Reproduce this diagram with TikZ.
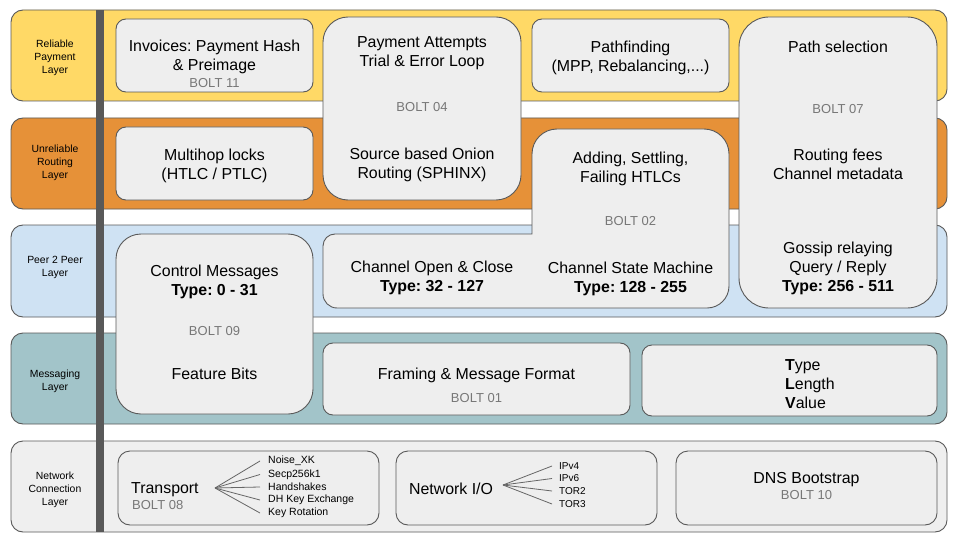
\documentclass[tikz,border=0pt]{standalone}
\usepackage{fontspec}
\setmainfont{Liberation Sans}
\frenchspacing
\definecolor{yel}{HTML}{FFD966}
\definecolor{ora}{HTML}{E69138}
\definecolor{blu}{HTML}{CFE2F3}
\definecolor{tea}{HTML}{A2C4C9}
\definecolor{netc}{HTML}{EFEFEF}
\definecolor{boxc}{HTML}{EEEEEE}
\definecolor{bordc}{HTML}{595959}
\definecolor{barc}{HTML}{595959}
\definecolor{boltc}{HTML}{777777}
\definecolor{fanc}{HTML}{666666}
\begin{document}
\frenchspacing
\begin{tikzpicture}[x=1pt,y=-1pt,
  band/.style={draw=bordc, line width=0.9pt, rounded corners=12pt},
  box/.style={draw=bordc, fill=boxc, line width=0.9pt, inner sep=0pt},
  lbl/.style={font=\fontsize{10.4}{13}\selectfont, align=center, inner sep=0pt},
  txt/.style={font=\fontsize{15.9}{19}\selectfont, align=center, inner sep=0pt, yshift=-1.5pt},
  bolt/.style={font=\fontsize{13}{15}\selectfont, text=boltc, inner sep=0pt, yshift=-0.5pt},
  item/.style={font=\fontsize{10.5}{13}\selectfont, anchor=west, inner sep=0pt},
  fan/.style={draw=fanc, line width=0.8pt}]
\useasboundingbox (0,0) rectangle (960,540);
\fill[white] (0,0) rectangle (960,540);

% layer bands
\draw[band, fill=yel] (11,10) rectangle (947,101);
\draw[band, fill=ora] (11,118) rectangle (947,209);
\draw[band, fill=blu] (11,225) rectangle (947,317);
\draw[band, fill=tea] (11,333) rectangle (947,424);
\draw[band, fill=netc] (11,441) rectangle (947,532);

% vertical bar
\fill[barc] (96,10) rectangle (104,532);

% layer labels
\node[lbl] (l1) at (55,58) {Reliable\\Payment\\Layer};
\node[lbl] (l2) at (55,163) {Unreliable\\Routing\\Layer};
\node[lbl] (l3) at (55,267.5) {Peer 2 Peer\\Layer};
\node[lbl] (l4) at (55,381.5) {Messaging\\Layer};
\node[lbl] (l5) at (55,490) {Network\\Connection\\Layer};

% boxes
\node[box, rounded corners=10pt, minimum width=197pt, minimum height=73pt] (b11) at (214.5,55.5) {};
\node[box, rounded corners=25pt, minimum width=198pt, minimum height=183pt] (b04) at (422,108.5) {};
\node[box, rounded corners=10pt, minimum width=197pt, minimum height=73pt] (bpf) at (630.5,55.5) {};
\node[box, rounded corners=30pt, minimum width=198pt, minimum height=291pt] (b07) at (838,162.5) {};
\node[box, rounded corners=10pt, minimum width=197pt, minimum height=73pt] (bml) at (214.5,163.5) {};
\draw[box] (532,234) -- (532,154) arc[start angle=180, end angle=90, radius=25pt]
  -- (704,129) arc[start angle=90, end angle=0, radius=25pt]
  -- (729,286) arc[start angle=0, end angle=-90, radius=22pt]
  -- (337,308) arc[start angle=270, end angle=180, radius=14pt]
  -- (323,246) arc[start angle=180, end angle=90, radius=12pt]
  -- cycle;
\node[box, rounded corners=25pt, minimum width=197pt, minimum height=180pt] (b09) at (214.5,324) {};
\node[box, rounded corners=10pt, minimum width=307pt, minimum height=72pt] (b01) at (476.5,379) {};
\node[box, rounded corners=10pt, minimum width=295pt, minimum height=71pt] (btlv) at (789.5,380.5) {};
\node[box, rounded corners=12pt, minimum width=261pt, minimum height=74pt] (btr) at (248.5,488) {};
\node[box, rounded corners=12pt, minimum width=261pt, minimum height=74pt] (bnio) at (526.5,488) {};
\node[box, rounded corners=12pt, minimum width=261pt, minimum height=74pt] (bdns) at (806.5,488) {};

% texts
\node[txt] (t11) at (214.5,55.5) {Invoices: Payment Hash\\\& Preimage};
\node[bolt] (t11b) at (214.5,83) {BOLT 11};
\node[txt] (t04a) at (422,51.5) {Payment Attempts\\Trial \& Error Loop};
\node[bolt] (t04b) at (422,107) {BOLT 04};
\node[txt] (t04c) at (422,163) {Source based Onion\\Routing (SPHINX)};
\node[txt] (tpf) at (630.5,56.5) {Pathfinding\\(MPP, Rebalancing,...)};
\node[txt] (t07a) at (838,45) {Path selection};
\node[bolt] (t07b) at (838,109) {BOLT 07};
\node[txt] (t07c) at (838,163) {Routing fees\\Channel metadata};
\node[txt] (t07d) at (838,267) {Gossip relaying\\Query / Reply\\\textbf{Type: 256 - 511}};
\node[txt] (tml) at (214.5,164.5) {Multihop locks\\(HTLC / PTLC)};
\node[txt] (t02a) at (630.5,167.5) {Adding, Settling,\\Failing HTLCs};
\node[bolt] (t02b) at (630.5,221) {BOLT 02};
\node[txt] (t02c) at (432,276) {Channel Open \& Close\\\textbf{Type: 32 - 127}};
\node[txt] (t02d) at (630.5,277) {Channel State Machine\\\textbf{Type: 128 - 255}};
\node[txt] (t09a) at (214.5,280) {Control Messages\\\textbf{Type: 0 - 31}};
\node[bolt] (t09b) at (214.5,331) {BOLT 09};
\node[txt] (t09c) at (214.5,372) {Feature Bits};
\node[txt] (t01a) at (476.5,374) {Framing \& Message Format};
\node[bolt] (t01b) at (476.5,398) {BOLT 01};
\node[txt, align=left, anchor=west] (ttlv) at (785,383) {\textbf{T}ype\\\textbf{L}ength\\\textbf{V}alue};
\node[txt, anchor=west] (ttr) at (131,488) {Transport};
\node[bolt, anchor=west] (ttrb) at (132,505) {BOLT 08};
\node[txt] (tnio) at (451,487.5) {Network I/O};
\node[txt] (tdns) at (806.5,478) {DNS Bootstrap};
\node[bolt] (tdnsb) at (806.5,495) {BOLT 10};

% transport fan
\coordinate (trf) at (215,488);
\node[item] (tr1) at (268,461) {Noise\_XK};
\node[item] (tr2) at (268,474.5) {Secp256k1};
\node[item] (tr3) at (268,487) {Handshakes};
\node[item] (tr4) at (268,500) {DH Key Exchange};
\node[item] (tr5) at (268,513) {Key Rotation};
\foreach \n in {tr1,tr2,tr3,tr4,tr5}
  \draw[fan] (trf) -- ([xshift=-8pt]\n.west);

% network I/O fan
\coordinate (nf) at (503,485);
\node[item, font=\fontsize{10}{12}\selectfont] (n1) at (559,466) {IPv4};
\node[item, font=\fontsize{10}{12}\selectfont] (n2) at (559,478.5) {IPv6};
\node[item, font=\fontsize{10}{12}\selectfont] (n3) at (559,491) {TOR2};
\node[item, font=\fontsize{10}{12}\selectfont] (n4) at (559,504) {TOR3};
\foreach \n in {n1,n2,n3,n4}
  \draw[fan] (nf) -- ([xshift=-7pt]\n.west);
\end{tikzpicture}
\end{document}
